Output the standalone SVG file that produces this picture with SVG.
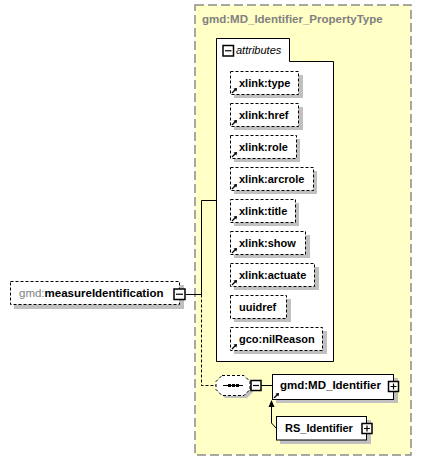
<svg xmlns="http://www.w3.org/2000/svg" width="428" height="461" viewBox="0 0 428 461">
<defs>
<style>
.bg{fill:#FFFFC6;stroke:#8C8C8C;stroke-width:1.5;stroke-dasharray:9,4}
.sh{fill:#C0C0C0}
.opt{fill:#fff;stroke:#000;stroke-width:1;stroke-dasharray:3,2}
.req{fill:#fff;stroke:#000;stroke-width:1}
.t{font-family:"Liberation Sans",Arial,sans-serif;font-size:11px;font-weight:bold;fill:#000}
.g{fill:#808080}
.it{font-family:"Liberation Sans",Arial,sans-serif;font-size:11px;font-style:italic;fill:#000}
.ln{fill:none;stroke:#000;stroke-width:1}
.dl{fill:none;stroke:#000;stroke-width:1;stroke-dasharray:3,2}
.ic{fill:#fff;stroke:#000;stroke-width:1.5}
</style>
<g id="arr">
<path d="M0,0 L4,-4" stroke="#000" stroke-width="1.2" fill="none"/>
<path d="M5,-5 L1.5,-4.5 L4.5,-1.5 Z" fill="#000"/>
</g>
</defs>

<g id="type-bg">
<rect class="bg" x="195" y="5" width="216" height="450"/>
<text class="t g" x="202" y="23" style="font-size:11.5px">gmd:MD_Identifier_PropertyType</text>
</g>

<g id="attributes">
<path class="req" d="M216.5,38.5 H289.5 V61.5 H333.5 V361.5 H216.5 Z"/>
<rect x="223" y="45.5" width="10.5" height="10.5" class="ic"/>
<path d="M225,50.75 H231.5" stroke="#000" stroke-width="1.2"/>
<text class="it" x="236" y="54">attributes</text>
</g>

<g id="attr-type">
<rect class="sh" x="234" y="75" width="69" height="23"/>
<rect class="opt" x="230.5" y="71.5" width="68" height="23"/>
<text class="t" x="239" y="87">xlink:type</text>
<use href="#arr" x="232" y="93"/>
</g>
<g id="attr-href">
<rect class="sh" x="234" y="107" width="69" height="23"/>
<rect class="opt" x="230.5" y="103.5" width="68" height="23"/>
<text class="t" x="239" y="119">xlink:href</text>
<use href="#arr" x="232" y="125"/>
</g>
<g id="attr-role">
<rect class="sh" x="234" y="139" width="66" height="23"/>
<rect class="opt" x="230.5" y="135.5" width="66" height="23"/>
<text class="t" x="239" y="151">xlink:role</text>
<use href="#arr" x="232" y="157"/>
</g>
<g id="attr-arcrole">
<rect class="sh" x="234" y="171" width="83" height="23"/>
<rect class="opt" x="230.5" y="167.5" width="83" height="23"/>
<text class="t" x="239" y="183">xlink:arcrole</text>
<use href="#arr" x="232" y="189"/>
</g>
<g id="attr-title">
<rect class="sh" x="234" y="203" width="65" height="23"/>
<rect class="opt" x="230.5" y="199.5" width="65" height="23"/>
<text class="t" x="239" y="215">xlink:title</text>
<use href="#arr" x="232" y="221"/>
</g>
<g id="attr-show">
<rect class="sh" x="234" y="235" width="76" height="23"/>
<rect class="opt" x="230.5" y="231.5" width="75" height="23"/>
<text class="t" x="239" y="247">xlink:show</text>
<use href="#arr" x="232" y="253"/>
</g>
<g id="attr-actuate">
<rect class="sh" x="234" y="267" width="85" height="23"/>
<rect class="opt" x="230.5" y="263.5" width="84" height="23"/>
<text class="t" x="239" y="279">xlink:actuate</text>
<use href="#arr" x="232" y="285"/>
</g>
<g id="attr-uuidref">
<rect class="sh" x="234" y="299" width="57" height="23"/>
<rect class="opt" x="230.5" y="295.5" width="56" height="23"/>
<text class="t" x="239" y="311">uuidref</text>
</g>
<g id="attr-nilReason">
<rect class="sh" x="234" y="331" width="93" height="23"/>
<rect class="opt" x="230.5" y="327.5" width="92" height="23"/>
<text class="t" x="239" y="343">gco:nilReason</text>
<use href="#arr" x="232" y="349"/>
</g>

<g id="connectors">
<path class="ln" d="M186,294.5 H201.5 V200.5 H216"/>
<path class="dl" d="M201.5,294.5 V385.5 H216"/>
<path class="ln" d="M261,385.5 H272"/>
<path class="ln" d="M276,428 L271.5,423 V406"/>
<path d="M271.5,400 L268.5,407 H274.5 Z" fill="#000"/>
</g>

<g id="measureIdentification">
<rect class="sh" x="14" y="285" width="170" height="24"/>
<rect class="opt" x="10.5" y="281.5" width="169" height="23"/>
<text class="t" x="19" y="297" style="font-size:11.5px"><tspan class="g" style="font-weight:normal">gmd:</tspan>measureIdentification</text>
<rect x="174" y="289" width="11" height="10.5" class="ic"/>
<path d="M176,294.25 H183" stroke="#000" stroke-width="1.2"/>
</g>

<g id="sequence">
<path class="sh" d="M225,378 H247 L253,384 V392 L247,398 H225 L219,392 V384 Z"/>
<path class="opt" d="M222,375.5 H244 L250,381.5 V389.5 L244,395.5 H222 L216,389.5 V381.5 Z"/>
<path d="M223,385.5 H243" stroke="#000" stroke-width="1"/>
<rect x="228" y="384" width="3" height="3" fill="#000"/>
<rect x="232" y="384" width="3" height="3" fill="#000"/>
<rect x="236" y="384" width="3" height="3" fill="#000"/>
<rect x="251" y="380.5" width="10" height="10" class="ic"/>
<path d="M253,385.5 H259" stroke="#000" stroke-width="1.2"/>
</g>

<g id="MD_Identifier">
<rect class="sh" x="276" y="378" width="122" height="25"/>
<rect class="req" x="272.5" y="374.5" width="121" height="25"/>
<text class="t" x="280" y="389" style="font-size:11.5px">gmd:MD_Identifier</text>
<use href="#arr" x="274" y="398"/>
<rect x="388.5" y="381.5" width="10" height="10" class="ic"/>
<path d="M390.5,386.5 H396.5 M393.5,383.5 V389.5" stroke="#000" stroke-width="1.2"/>
</g>

<g id="RS_Identifier">
<rect class="sh" x="280" y="420" width="91" height="24"/>
<rect class="req" x="276.5" y="416.5" width="90" height="23.5"/>
<text class="t" x="285" y="432">RS_Identifier</text>
<rect x="362" y="423.5" width="10" height="10" class="ic"/>
<path d="M364,428.5 H370 M367,425.5 V431.5" stroke="#000" stroke-width="1.2"/>
</g>
</svg>
